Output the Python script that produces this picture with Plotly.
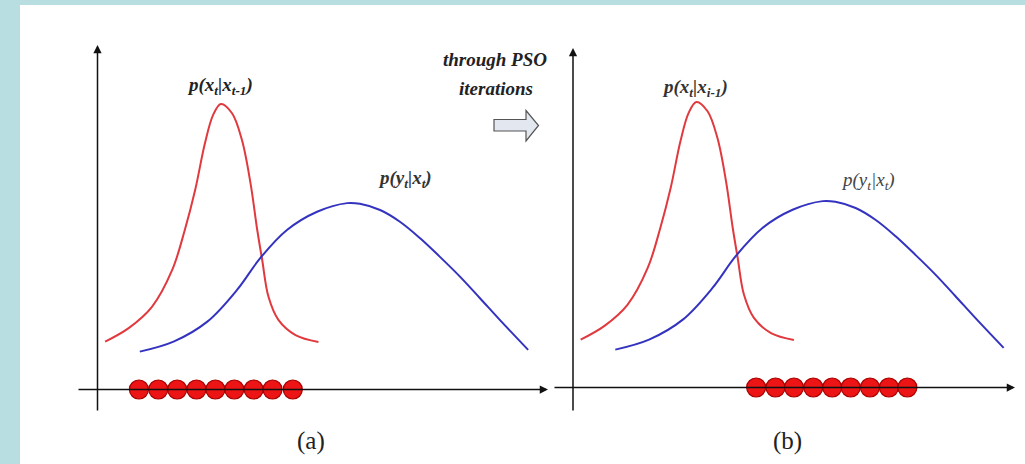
import plotly.graph_objects as go

# ---------------- data (panel units: origin at the axes crossing) ----------------
prior_x = [0.17, 0.70, 1.21, 1.66, 1.94, 2.17, 2.39, 2.57, 2.74, 2.99, 3.21, 3.40, 3.55, 3.66, 3.80, 4.02, 4.40, 4.91]
prior_y = [1.39, 1.79, 2.40, 3.47, 4.63, 5.79, 7.16, 7.97, 8.29, 8.02, 7.24, 5.99, 4.63, 3.76, 2.69, 2.02, 1.58, 1.38]

like_x = [0.94, 1.69, 2.44, 3.10, 3.62, 4.21, 4.88, 5.55, 5.83, 6.28, 6.72, 7.17, 7.61, 8.06, 8.50, 8.94, 9.57]
like_y = [1.10, 1.39, 1.97, 2.89, 3.82, 4.63, 5.16, 5.41, 5.39, 5.21, 4.87, 4.39, 3.85, 3.27, 2.65, 2.02, 1.15]

particles_a = [0.92, 1.35, 1.77, 2.20, 2.62, 3.04, 3.47, 3.89, 4.34]
particles_b = [4.07, 4.50, 4.91, 5.34, 5.76, 6.17, 6.60, 7.02, 7.43]

panel_labels = ["(a)", "(b)"]
prior_label = ["p(x<sub>t</sub>|x<sub>t-1</sub>)", "p(x<sub>t</sub>|x<sub>i-1</sub>)"]
like_label = "p(y<sub>t</sub>|x<sub>t</sub>)"
transition_text = ["through PSO", "iterations"]

# ---------------- layout geometry (pixels) ----------------
W, H = 1025, 464
SX, SY = 45.0, 34.45          # pixels per unit
ORIG_A = (97.5, 389.5)
ORIG_B = (573.0, 387.5)


def ranges(orig):
    ox, oy = orig
    return [(0 - ox) / SX, (W - ox) / SX], [-(H - oy) / SY, oy / SY]


def px(p):
    return p / W


def py(p):
    return 1 - p / H


RED = "#e0393e"
BLUE = "#3333c0"
SERIF = '"Liberation Serif", "Times New Roman", serif'

fig = go.Figure()

for xa, ya, dots in [("x", "y", particles_a), ("x2", "y2", particles_b)]:
    fig.add_trace(go.Scatter(x=prior_x, y=prior_y, mode="lines",
                             line=dict(color=RED, width=2, shape="spline", smoothing=1.0),
                             xaxis=xa, yaxis=ya, hoverinfo="skip", showlegend=False))
    fig.add_trace(go.Scatter(x=like_x, y=like_y, mode="lines",
                             line=dict(color=BLUE, width=2, shape="spline", smoothing=1.0),
                             xaxis=xa, yaxis=ya, hoverinfo="skip", showlegend=False))
    fig.add_trace(go.Scatter(x=dots, y=[0] * len(dots), mode="markers",
                             marker=dict(size=19, color="#ec1414", line=dict(color="#a80000", width=1.2)),
                             xaxis=xa, yaxis=ya, cliponaxis=False, hoverinfo="skip", showlegend=False))

annotations = []
# axes with arrowheads
axes_def = [
    ("x", "y", ORIG_A, 77, 548, 412, 45),
    ("x2", "y2", ORIG_B, 553, 1015, 412, 48),
]
for xr, yr, (ox, oy), x0, x1, y0, y1 in axes_def:
    annotations.append(dict(xref=xr, yref=yr, axref=xr, ayref=yr, text="", showarrow=True,
                            x=(x1 - ox) / SX, y=0, ax=(x0 - ox) / SX, ay=0,
                            arrowhead=2, arrowsize=1.1, arrowwidth=1.5, arrowcolor="#111"))
    annotations.append(dict(xref=xr, yref=yr, axref=xr, ayref=yr, text="", showarrow=True,
                            x=0, y=(oy - y1) / SY, ax=0, ay=(oy - y0) / SY,
                            arrowhead=2, arrowsize=1.1, arrowwidth=1.5, arrowcolor="#111"))


def label(xref, yref, x, y, text, size, color):
    return dict(xref=xref, yref=yref, x=x, y=y, text=text, showarrow=False,
                xanchor="center", yanchor="middle", font=dict(family=SERIF, size=size, color=color))


# curve labels
annotations += [
    label("x", "y", 2.72, 8.81, "<b><i>" + prior_label[0] + "</i></b>", 19, "#222"),
    label("x", "y", 6.83, 6.11, "<b><i>" + like_label + "</i></b>", 19, "#333"),
    label("x2", "y2", 2.71, 8.69, "<b><i>" + prior_label[1] + "</i></b>", 19, "#333"),
    label("x2", "y2", 6.56, 5.99, "<i>" + like_label + "</i>", 19, "#444"),
]
# panel captions and transition text
annotations += [
    label("paper", "paper", px(311), py(441), panel_labels[0], 25, "#222"),
    label("paper", "paper", px(787), py(441), panel_labels[1], 25, "#222"),
    label("paper", "paper", px(495), py(60), "<b><i>" + transition_text[0] + "</i></b>", 19, "#222"),
    label("paper", "paper", px(496), py(89), "<b><i>" + transition_text[1] + "</i></b>", 19, "#222"),
]

arrow_pts = [(494, 119.5), (526, 119.5), (526, 110.5), (538.5, 125.5), (526, 141), (526, 131), (494, 131)]
path = "M " + " L ".join(f"{px(a):.5f},{py(b):.5f}" for a, b in arrow_pts) + " Z"

shapes = [
    dict(type="rect", xref="paper", yref="paper", x0=px(20), x1=1, y0=0, y1=py(5),
         fillcolor="white", line=dict(width=0), layer="below"),
    dict(type="path", xref="paper", yref="paper", path=path, fillcolor="#e2e7f0",
         line=dict(color="#555", width=1.2)),
]

xa_r, ya_r = ranges(ORIG_A)
xb_r, yb_r = ranges(ORIG_B)
ax_common = dict(visible=False, fixedrange=True)
fig.update_layout(
    width=W, height=H, margin=dict(l=0, r=0, t=0, b=0),
    paper_bgcolor="#b8dee2", plot_bgcolor="rgba(0,0,0,0)",
    font=dict(family=SERIF),
    xaxis=dict(domain=[0, 1], range=xa_r, **ax_common),
    yaxis=dict(domain=[0, 1], range=ya_r, **ax_common),
    xaxis2=dict(domain=[0, 1], range=xb_r, anchor="y2", overlaying="x", **ax_common),
    yaxis2=dict(domain=[0, 1], range=yb_r, anchor="x2", overlaying="y", **ax_common),
    annotations=annotations, shapes=shapes, showlegend=False,
)

fig.write_html("out.html", config={"displayModeBar": False},
               post_script="document.body.style.margin='0';document.body.style.overflow='hidden';")
